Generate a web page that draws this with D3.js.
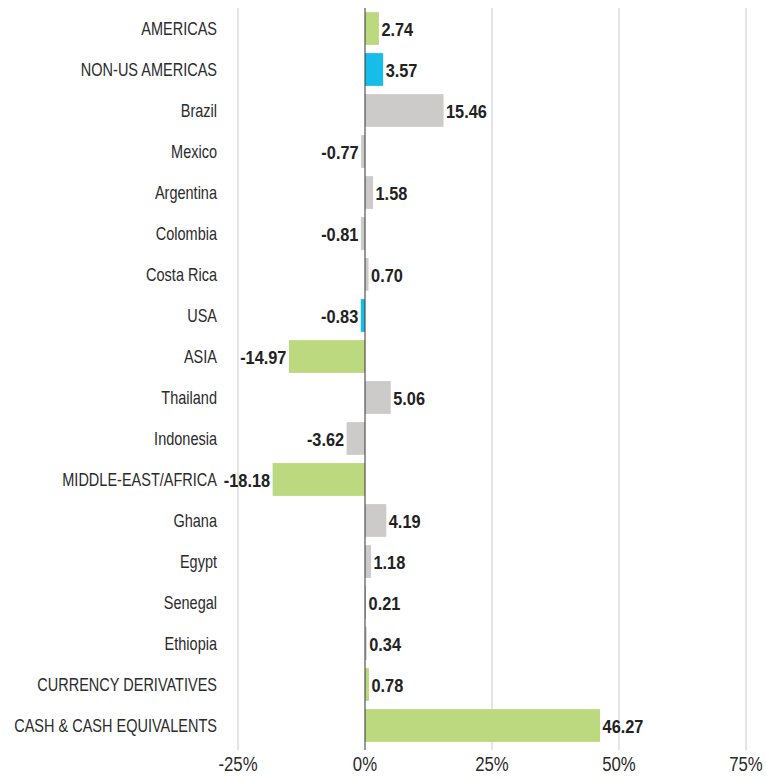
<!DOCTYPE html>
<html>
<head>
<meta charset="utf-8">
<script src="https://cdn.jsdelivr.net/npm/d3@7"></script>
<style>
  body { margin: 0; background: #fff; }
  text { font-family: "Liberation Sans", Arial, sans-serif; }
</style>
</head>
<body>
<div id="vis"></div>
<script>

var categories = [
  'AMERICAS', 'NON-US AMERICAS', 'Brazil', 'Mexico', 'Argentina', 'Colombia',
  'Costa Rica', 'USA', 'ASIA', 'Thailand', 'Indonesia', 'MIDDLE-EAST/AFRICA',
  'Ghana', 'Egypt', 'Senegal', 'Ethiopia', 'CURRENCY DERIVATIVES', 'CASH & CASH EQUIVALENTS'
];

var values = [
  2.74, 3.57, 15.46, -0.77, 1.58, -0.81,
  0.70, -0.83, -14.97, 5.06, -3.62, -18.18,
  4.19, 1.18, 0.21, 0.34, 0.78, 46.27
];

// g = region / total, b = highlighted, c = country
var groups = [
  'g', 'b', 'c', 'c', 'c', 'c',
  'c', 'b', 'g', 'c', 'c', 'g',
  'c', 'c', 'c', 'c', 'g', 'g'
];

var tickValues = [-25, 0, 25, 50, 75];

var width = 766;
var height = 780;

var fillColor = d3.scaleOrdinal()
  .domain(['g', 'b', 'c'])
  .range(['#bdd980', '#17bde9', '#cccbca']);

var data = categories.map(function(name, i) {
  return { name: name, value: values[i], group: groups[i] };
});

var x = d3.scaleLinear()
  .domain([-25, 75])
  .range([238, 746]);

var y = d3.scaleBand()
  .domain(categories)
  .range([8, 746])
  .paddingInner(0.2)
  .paddingOuter(0.1);

// no narrow font installed, so squeeze the text instead
function place(px, py, k) {
  return 'translate(' + px + ',' + py + ') scale(' + k + ',1)';
}

var svg = d3.select('#vis')
  .append('svg')
  .attr('width', width)
  .attr('height', height);

// vertical grid
svg.append('g')
  .selectAll('line')
  .data(tickValues.filter(function(d) { return d !== 0; }))
  .enter().append('line')
  .attr('x1', function(d) { return x(d); })
  .attr('x2', function(d) { return x(d); })
  .attr('y1', 8)
  .attr('y2', 750)
  .attr('stroke', '#dcdcdc')
  .attr('stroke-width', 1.5);

// bars
svg.append('g')
  .selectAll('rect')
  .data(data)
  .enter().append('rect')
  .attr('x', function(d) { return x(Math.min(0, d.value)); })
  .attr('width', function(d) { return Math.abs(x(d.value) - x(0)); })
  .attr('y', function(d) { return y(d.name); })
  .attr('height', y.bandwidth())
  .attr('fill', function(d) { return fillColor(d.group); });

// zero line
svg.append('line')
  .attr('x1', x(0))
  .attr('x2', x(0))
  .attr('y1', 8)
  .attr('y2', 750)
  .attr('stroke', '#333')
  .attr('stroke-width', 1);

// category labels
svg.append('g')
  .selectAll('text')
  .data(data)
  .enter().append('text')
  .attr('transform', function(d) { return place(217, y(d.name) + y.bandwidth() / 2, 0.82); })
  .attr('dy', '0.35em')
  .attr('text-anchor', 'end')
  .attr('font-size', 17.7)
  .attr('fill', '#2b2b2b')
  .text(function(d) { return d.name; });

// value labels
svg.append('g')
  .selectAll('text')
  .data(data)
  .enter().append('text')
  .attr('transform', function(d) {
    var px = d.value < 0 ? x(d.value) - 2.5 : x(d.value) + 2.5;
    return place(px, y(d.name) + y.bandwidth() / 2 + 1, 0.86);
  })
  .attr('dy', '0.35em')
  .attr('text-anchor', function(d) { return d.value < 0 ? 'end' : 'start'; })
  .attr('font-size', 19)
  .attr('font-weight', 'bold')
  .attr('fill', '#222')
  .text(function(d) { return d.value.toFixed(2); });

// x axis labels
svg.append('g')
  .selectAll('text')
  .data(tickValues)
  .enter().append('text')
  .attr('transform', function(d) { return place(x(d), 764, 0.82); })
  .attr('dy', '0.35em')
  .attr('text-anchor', 'middle')
  .attr('font-size', 20.5)
  .attr('fill', '#2b2b2b')
  .text(function(d) { return d + '%'; });

</script>
</body>
</html>
